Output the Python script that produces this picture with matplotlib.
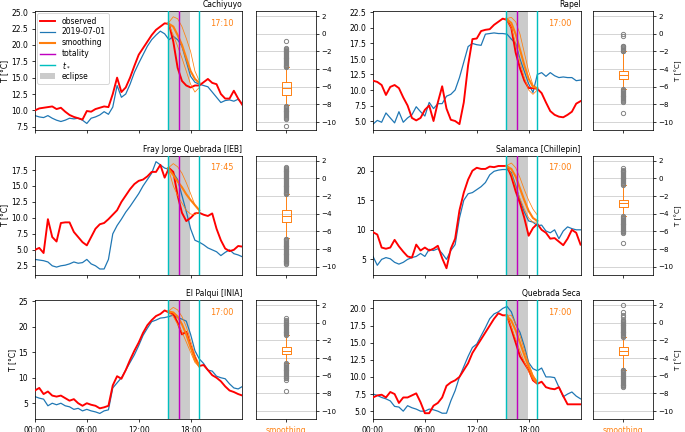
import numpy as np
import matplotlib.pyplot as plt
from matplotlib.patches import Patch
from matplotlib.lines import Line2D

plt.rcParams['font.size'] = 8

# half-hourly time axis (hours of day)
hours = np.arange(0, 24.5, 0.5)
# time axis of the smoothing curves
t_smooth = [15.4, 16.0, 16.5, 17.0, 17.5, 18.0, 18.5, 19.0]

# eclipse times (hours)
t_first = 15.4
t_last = 19.0
t_total = 16.67
ecl_start = 15.45
ecl_end = 17.8

names = ['Cachiyuyo', 'Rapel', 'Fray Jorge Quebrada [IEB]',
         'Salamanca [Chillepin]', 'El Palqui [INIA]', 'Quebrada Seca']
time_labels = ['17:10', '17:00', '17:45', '17:00', '17:00', '17:00']

# ---- observed (2019-07-02) and reference day (2019-07-01) ----
obs_cachiyuyo = [10.0, 10.3, 10.4, 10.5, 10.6, 10.2, 10.4, 9.8, 9.3, 9.0, 8.8, 8.6,
                 9.9, 9.8, 10.2, 10.4, 10.6, 10.5, 12.5, 15.0, 12.8, 13.5, 15.0, 16.8,
                 18.5, 19.5, 20.5, 21.5, 22.3, 22.8, 23.3, 23.2, 20.5, 16.5, 14.5, 13.8,
                 13.5, 13.8, 13.8, 14.3, 14.8, 14.2, 14.0, 12.5, 11.8, 11.8, 13.0, 11.8, 10.8]
ref_cachiyuyo = [9.2, 9.0, 8.9, 9.2, 8.8, 8.5, 8.3, 8.5, 8.8, 8.7, 8.8, 8.5,
                 8.0, 8.8, 9.0, 9.3, 9.8, 9.4, 10.5, 13.8, 12.0, 12.5, 14.0, 15.8,
                 17.2, 18.5, 19.8, 20.8, 21.5, 22.1, 21.7, 20.8, 21.3, 20.8, 19.8, 17.5,
                 15.2, 14.3, 14.0, 13.8, 13.6, 12.8, 12.0, 11.2, 11.5, 11.6, 11.4, 11.7, 11.0]

obs_rapel = [11.5, 11.3, 10.8, 9.2, 10.5, 10.8, 10.3, 8.8, 7.5, 5.5, 5.1, 5.5,
             6.8, 7.5, 5.0, 8.0, 10.6, 7.0, 5.2, 5.0, 4.5, 8.0, 14.0, 18.2,
             18.3, 19.5, 19.7, 19.8, 20.5, 21.0, 21.5, 21.3, 20.0, 16.0, 13.5, 11.5,
             10.3, 10.3, 10.2, 9.5, 8.0, 6.6, 6.0, 5.7, 5.6, 6.0, 6.5, 7.8, 8.2]
ref_rapel = [4.5, 5.1, 4.8, 6.3, 5.5, 4.7, 6.5, 4.8, 5.5, 6.0, 7.3, 6.5,
             5.8, 8.0, 7.0, 7.8, 7.8, 9.0, 9.3, 10.0, 12.0, 14.5, 17.0, 17.5,
             17.3, 17.2, 19.0, 19.1, 19.2, 19.1, 19.1, 19.0, 18.2, 17.5, 15.0, 13.0,
             11.0, 9.6, 12.5, 12.8, 12.2, 12.8, 12.3, 12.0, 12.1, 12.0, 12.0, 11.5, 11.6]

obs_fray = [5.0, 5.3, 4.5, 9.8, 7.0, 6.3, 9.2, 9.3, 9.3, 7.8, 7.0, 6.2,
            5.7, 7.0, 8.3, 9.0, 9.2, 9.8, 10.5, 11.2, 12.5, 13.5, 14.5, 15.3,
            15.8, 16.0, 16.5, 17.2, 17.2, 18.3, 16.3, 17.8, 17.2, 13.5, 10.8, 9.5,
            10.0, 10.7, 10.8, 10.5, 10.3, 10.7, 8.3, 6.5, 5.2, 4.8, 5.0, 5.6, 5.5]
ref_fray = [3.5, 3.4, 3.3, 3.1, 2.5, 2.3, 2.5, 2.6, 2.8, 3.1, 2.9, 3.0,
            3.5, 2.8, 2.5, 2.0, 2.0, 3.5, 7.5, 8.8, 9.8, 10.9, 11.8, 12.8,
            13.8, 15.0, 16.0, 17.0, 18.8, 18.3, 17.8, 17.6, 17.0, 16.0, 13.5, 11.0,
            8.3, 6.5, 6.2, 5.8, 5.3, 5.0, 4.7, 4.1, 4.6, 5.0, 4.4, 4.2, 3.9]

obs_salamanca = [9.6, 9.2, 7.0, 6.8, 7.0, 8.3, 7.2, 6.3, 5.5, 5.3, 7.5, 6.5,
                 7.0, 6.5, 6.8, 7.3, 5.2, 3.5, 6.8, 8.5, 13.3, 16.3, 18.5, 20.0,
                 20.5, 20.3, 20.3, 20.7, 20.6, 20.8, 20.8, 20.8, 19.0, 16.5, 14.5, 12.0,
                 9.0, 10.3, 11.0, 10.0, 9.5, 8.5, 8.6, 8.0, 7.4, 8.5, 10.0, 9.5, 7.5]
ref_salamanca = [5.5, 4.0, 5.0, 5.3, 5.1, 4.5, 4.2, 4.5, 5.0, 5.3, 5.5, 6.0,
                 5.5, 6.7, 6.5, 6.8, 6.0, 5.0, 6.5, 7.5, 12.0, 15.0, 16.1, 16.3,
                 16.8, 17.3, 18.0, 19.3, 19.9, 20.1, 20.2, 20.2, 19.7, 17.5, 15.0, 13.0,
                 11.5, 11.3, 10.7, 10.8, 9.8, 9.5, 10.0, 8.5, 9.8, 10.5, 10.2, 10.0, 10.0]

obs_palqui = [7.5, 8.0, 6.8, 7.3, 6.5, 6.3, 6.5, 6.0, 5.5, 5.8, 5.0, 4.5,
              5.0, 4.7, 4.5, 4.0, 4.2, 4.5, 8.5, 10.3, 9.8, 11.5, 13.5, 15.3,
              16.9, 18.8, 20.3, 21.3, 22.1, 22.5, 23.2, 22.8, 22.5, 20.8, 18.5, 19.0,
              16.3, 14.0, 12.3, 12.5, 11.5, 10.5, 10.0, 9.3, 8.3, 7.5, 7.2, 6.8, 6.5]
ref_palqui = [6.3, 6.0, 5.8, 4.5, 5.0, 4.7, 5.0, 4.5, 4.3, 3.8, 4.0, 3.5,
              3.8, 3.5, 3.3, 3.0, 3.5, 3.7, 8.0, 9.0, 10.0, 11.5, 13.0, 14.5,
              16.3, 18.3, 19.7, 21.0, 21.3, 21.7, 21.8, 22.0, 22.3, 21.8, 21.5, 21.1,
              18.5, 15.3, 13.7, 12.8, 11.5, 11.3, 10.3, 10.0, 9.8, 8.8, 8.0, 7.8, 8.3]

obs_seca = [7.0, 7.3, 7.4, 7.0, 7.8, 7.5, 6.2, 7.0, 7.0, 7.3, 7.6, 6.3,
            4.7, 4.7, 5.8, 6.2, 7.0, 8.7, 9.2, 9.5, 10.0, 11.0, 12.0, 13.5,
            14.5, 15.5, 16.5, 17.5, 18.5, 19.3, 19.0, 19.0, 17.0, 15.0, 13.0, 12.0,
            11.0, 9.5, 9.0, 9.3, 8.5, 8.3, 8.2, 8.5, 7.2, 6.0, 6.0, 6.0, 6.0]
ref_seca = [7.5, 7.3, 7.0, 6.8, 6.5, 5.7, 5.6, 5.0, 5.8, 5.5, 5.3, 5.0,
            5.0, 5.3, 5.2, 5.0, 4.7, 4.7, 6.5, 8.0, 10.0, 11.5, 13.0, 14.3,
            14.8, 16.0, 17.2, 18.5, 19.2, 19.5, 20.0, 20.3, 19.5, 17.7, 16.5, 14.5,
            12.1, 11.2, 10.9, 11.3, 10.0, 10.0, 9.9, 8.5, 7.1, 7.5, 7.8, 7.2, 6.8]

# ---- smoothing curves: centre, upper, lower ----
sm_cachiyuyo = [23.3, 22.8, 21.5, 20.0, 18.0, 16.0, 14.8, 14.2]
up_cachiyuyo = [23.3, 24.3, 24.0, 22.8, 21.0, 19.0, 16.0, 14.5]
lo_cachiyuyo = [23.3, 21.5, 19.8, 18.0, 16.0, 14.0, 12.8, 13.5]

sm_rapel = [21.5, 20.8, 19.0, 16.5, 14.0, 11.8, 10.5, 10.3]
up_rapel = [21.5, 21.7, 21.0, 19.0, 16.0, 13.0, 10.8, 10.3]
lo_rapel = [21.5, 20.0, 17.5, 14.5, 12.0, 10.0, 9.3, 10.0]

sm_fray = [17.8, 16.7, 15.7, 14.8, 13.7, 12.8, 12.0, 11.2]
up_fray = [17.8, 18.5, 18.0, 17.0, 15.5, 13.8, 12.0, 11.3]
lo_fray = [17.8, 15.0, 13.5, 12.3, 11.2, 10.6, 10.5, 11.0]

sm_salamanca = [20.8, 20.3, 19.0, 17.0, 15.0, 13.2, 12.0, 11.5]
up_salamanca = [20.8, 21.3, 20.5, 18.8, 16.8, 15.0, 13.5, 12.5]
lo_salamanca = [20.8, 19.5, 17.3, 15.3, 13.5, 12.0, 11.3, 11.3]

sm_palqui = [23.0, 22.8, 22.0, 20.5, 18.5, 16.0, 13.5, 12.2]
up_palqui = [23.0, 23.8, 23.3, 22.0, 20.0, 17.3, 14.5, 12.5]
lo_palqui = [23.0, 22.0, 20.5, 19.0, 17.0, 15.0, 13.0, 12.2]

sm_seca = [19.0, 18.2, 16.8, 15.0, 13.2, 11.5, 10.0, 9.2]
up_seca = [19.0, 19.0, 17.8, 16.0, 14.0, 12.0, 10.3, 9.3]
lo_seca = [19.0, 17.3, 15.5, 13.8, 12.2, 10.8, 9.6, 9.0]

# ---- box plot statistics of the smoothing difference ----
box_med = [-6.1, -4.7, -4.3, -2.8, -3.2, -3.2]
box_q1 = [-6.9, -5.15, -4.9, -3.25, -3.55, -3.7]
box_q3 = [-5.5, -4.2, -3.6, -2.4, -2.8, -2.8]
box_lo = [-8.1, -6.3, -6.75, -4.3, -4.55, -5.3]
box_hi = [-3.8, -2.0, -1.8, -0.75, -1.4, -1.6]
fliers_cachiyuyo = [-3.8, -3.7, -3.6, -3.5, -3.4, -3.3, -3.2, -3.1, -3.0, -2.9, -2.8,
                    -2.7, -2.6, -2.5, -2.4, -2.3, -2.2, -2.1, -2.0, -1.9, -1.8, -1.7,
                    -1.6, -0.8,
                    -8.2, -8.3, -8.4, -8.5, -8.6, -8.7, -8.8, -8.9, -9.0, -9.1, -9.2,
                    -9.3, -9.4, -9.5, -9.6, -10.4]
fliers_rapel = [-2.0, -1.9, -1.8, -1.7, -1.6, -1.5, -1.4, -1.35, -0.25, -0.05,
                -6.3, -6.4, -6.5, -6.6, -6.7, -6.8, -6.9, -7.0, -7.1, -7.2, -7.3,
                -7.4, -7.5, -7.6, -7.7, -9.0]
fliers_fray = [-1.8, -1.7, -1.6, -1.5, -1.4, -1.3, -1.2, -1.1, -1.0, -0.9, -0.8, -0.7,
               -0.6, -0.5, -0.4, -0.3, -0.2, -0.1, 0.0, 0.1, 0.2, 0.3, 0.4, 0.5, 0.6,
               0.7, 0.8, 0.9, 1.0, 1.1, 1.2, 1.3,
               -6.8, -6.9, -7.0, -7.1, -7.2, -7.3, -7.4, -7.5, -7.6, -7.7, -7.8, -7.9,
               -8.0, -8.1, -8.2, -8.3, -8.4, -8.5, -8.6, -8.7, -8.8, -8.9, -9.0, -9.1,
               -9.2, -9.3, -9.4, -9.5, -9.6, -9.7]
fliers_salamanca = [-0.7, -0.6, -0.5, -0.4, -0.3, -0.2, -0.1, 0.0, 0.1, 0.2, 0.3, 0.4,
                    0.5, 0.6, 0.7, 0.8, 0.9, 1.0, 1.15,
                    -4.3, -4.4, -4.5, -4.6, -4.7, -4.8, -4.9, -5.0, -5.1, -5.2, -5.3,
                    -5.4, -5.5, -5.6, -5.7, -5.8, -5.9, -6.0, -6.1, -6.2, -7.35]
fliers_palqui = [-1.4, -1.3, -1.2, -1.1, -1.0, -0.9, -0.8, -0.7, -0.6, -0.5, -0.4,
                 -0.3, -0.2, -0.1, 0.0, 0.1, 0.2, 0.3, 0.5,
                 -4.6, -4.7, -4.8, -4.9, -5.0, -5.1, -5.2, -5.3, -5.4, -5.5, -5.6,
                 -5.7, -5.8, -5.9, -6.0, -6.1, -6.2, -6.3, -6.5, -7.75]
fliers_seca = [-1.6, -1.5, -1.4, -1.3, -1.2, -1.1, -1.0, -0.9, -0.8, -0.7, -0.6, -0.5,
               -0.4, -0.3, -0.2, -0.1, 0.0, 0.1, 0.2, 0.3, 0.7, 0.9, 1.2, 2.05,
               -5.3, -5.4, -5.5, -5.6, -5.7, -5.8, -5.9, -6.0, -6.1, -6.2, -6.3, -6.4,
               -6.5, -6.6, -6.7, -6.8, -6.9, -7.0, -7.1, -7.2, -7.3]

# ---- axis ranges ----
ylims = [(7.0, 25.15), (3.55, 22.7), (1.1, 19.7), (2.4, 22.5), (1.9, 25.2), (3.85, 21.2)]
yticks = [np.arange(7.5, 25.1, 2.5), np.arange(5.0, 22.6, 2.5), np.arange(2.5, 17.6, 2.5),
          np.arange(5, 21, 5), np.arange(5, 26, 5), np.arange(5.0, 20.1, 2.5)]

obs_all = [obs_cachiyuyo, obs_rapel, obs_fray, obs_salamanca, obs_palqui, obs_seca]
ref_all = [ref_cachiyuyo, ref_rapel, ref_fray, ref_salamanca, ref_palqui, ref_seca]
sm_all = [sm_cachiyuyo, sm_rapel, sm_fray, sm_salamanca, sm_palqui, sm_seca]
up_all = [up_cachiyuyo, up_rapel, up_fray, up_salamanca, up_palqui, up_seca]
lo_all = [lo_cachiyuyo, lo_rapel, lo_fray, lo_salamanca, lo_palqui, lo_seca]
fliers_all = [fliers_cachiyuyo, fliers_rapel, fliers_fray, fliers_salamanca,
              fliers_palqui, fliers_seca]

orange = '#ff7f0e'
fig = plt.figure(figsize=(10, 6.307))

main_left = [0.051, 0.5445]
box_left = [0.374, 0.866]
row_bottom = [0.699, 0.364, 0.030]

for i in range(6):
    row, col = divmod(i, 2)
    ax = fig.add_axes([main_left[col], row_bottom[row], 0.303, 0.275])
    ax.axvspan(ecl_start, ecl_end, color='#cbcbcb', zorder=0)
    ax.plot(hours, ref_all[i], color='#1f77b4', lw=1.3, zorder=2)
    ax.plot(hours, obs_all[i], color='red', lw=2.0, zorder=3)
    ax.plot(t_smooth, up_all[i], color=orange, lw=0.8, zorder=4)
    ax.plot(t_smooth, lo_all[i], color=orange, lw=0.8, zorder=4)
    ax.plot(t_smooth, sm_all[i], color=orange, lw=2.2, zorder=4)
    ax.axvline(t_total, color='m', lw=1.5, zorder=5)
    ax.axvline(t_first, color='c', lw=1.5, zorder=5)
    ax.axvline(t_last, color='c', lw=1.5, zorder=5)
    ax.set_xlim(0, 24)
    ax.set_ylim(*ylims[i])
    ax.set_yticks(yticks[i])
    ax.set_xticks([0, 6, 12, 18])
    if row == 2:
        ax.set_xticklabels(['00:00', '06:00', '12:00', '18:00'])
    else:
        ax.set_xticklabels([])
    if col == 0:
        ax.set_ylabel('T [°C]', labelpad=2)
    ax.set_title(names[i], loc='right', fontsize=8, pad=4)
    ax.text(0.9, 0.9, time_labels[i], color=orange, transform=ax.transAxes,
            ha='center', va='center', fontsize=8.5)
    if i == 0:
        handles = [Line2D([], [], color='red', lw=2),
                   Line2D([], [], color='#1f77b4', lw=1.3),
                   Line2D([], [], color=orange, lw=2.2),
                   Line2D([], [], color='m', lw=1.5),
                   Line2D([], [], color='c', lw=1.5),
                   Patch(facecolor='#cbcbcb')]
        ax.legend(handles, ['observed', '2019-07-01', 'smoothing', 'totality',
                            '$t_*$', 'eclipse'],
                  loc='upper left', fontsize=8, labelspacing=0.25,
                  borderaxespad=0.3)

    # box plot panel
    bx = fig.add_axes([box_left[col], row_bottom[row], 0.088, 0.275])
    stats = [{'med': box_med[i], 'q1': box_q1[i], 'q3': box_q3[i],
              'whislo': box_lo[i], 'whishi': box_hi[i], 'fliers': fliers_all[i]}]
    bx.bxp(stats, positions=[1], widths=0.15,
           boxprops=dict(color=orange, lw=1),
           whiskerprops=dict(color=orange, lw=1),
           capprops=dict(color=orange, lw=1),
           medianprops=dict(color=orange, lw=1),
           flierprops=dict(marker='o', markerfacecolor='none',
                           markeredgecolor='gray', markersize=4.5, lw=0))
    bx.set_xlim(0.5, 1.5)
    bx.set_ylim(-10.9, 2.55)
    bx.set_yticks([2, 0, -2, -4, -6, -8, -10])
    bx.yaxis.tick_right()
    bx.tick_params(axis='y', labelsize=7.5, pad=2)
    bx.yaxis.grid(True, color='#d3d3d3', lw=1)
    bx.set_axisbelow(True)
    bx.set_xticks([1])
    if row == 2:
        bx.set_xticklabels(['smoothing'], color=orange)
    else:
        bx.set_xticklabels([''])
    if col == 1:
        bx.yaxis.set_label_position('right')
        bx.set_ylabel('T [°C]', fontsize=7.5, labelpad=1)

fig.savefig('out.png', dpi=68.5)
